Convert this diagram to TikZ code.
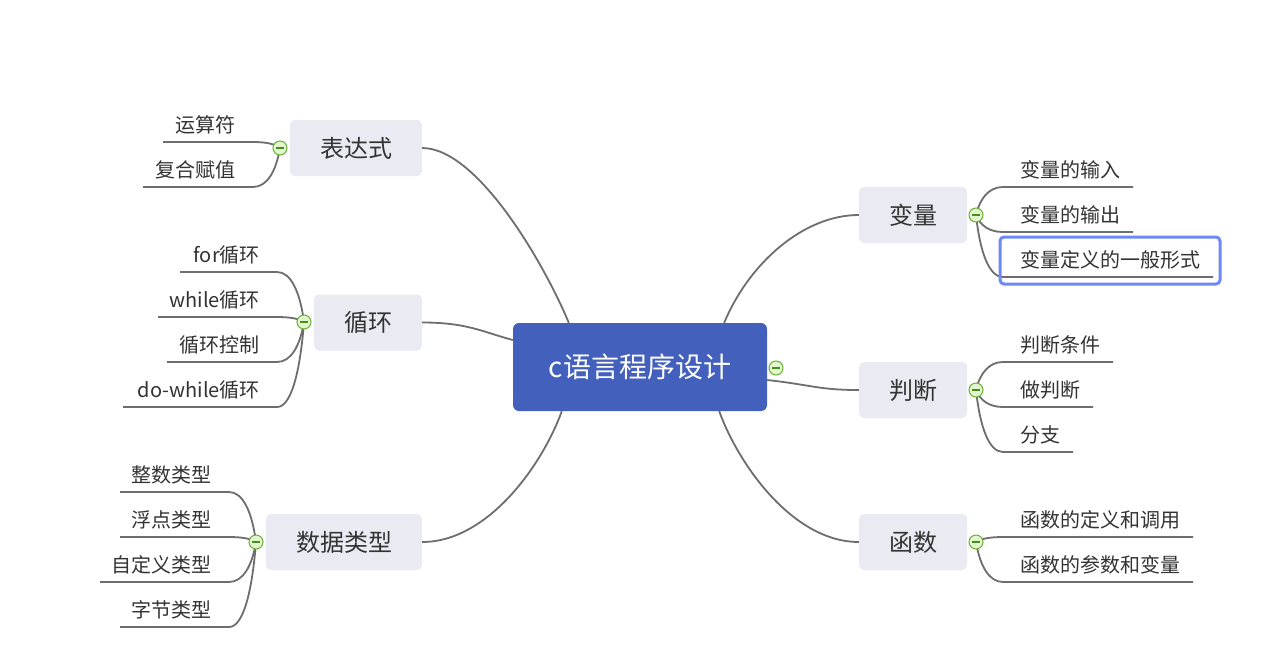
\documentclass[tikz,border=0pt]{standalone}
\usepackage{fontspec}
\newfontfamily\cjk{Noto Sans CJK SC}
\usetikzlibrary{calc}
\definecolor{rootblue}{RGB}{67,96,188}
\definecolor{topicbg}{RGB}{234,234,243}
\definecolor{txt}{RGB}{51,51,51}
\definecolor{connc}{RGB}{110,110,110}
\definecolor{foldg}{RGB}{105,175,55}
\definecolor{foldbg}{RGB}{226,245,204}
\definecolor{foldm}{RGB}{70,140,35}
\definecolor{hlblue}{RGB}{110,136,245}
\tikzset{
  rootbox/.style={fill=rootblue, rounded corners=6pt, minimum width=254pt, minimum height=88pt,
    text=white, font=\cjk\fontsize{28}{32}\selectfont, inner sep=0pt},
  topicbox/.style={fill=topicbg, rounded corners=5pt, minimum height=56pt,
    font=\cjk\fontsize{24}{28}\selectfont, text=txt, inner sep=0pt},
  leaftext/.style={font=\cjk\fontsize{20}{24}\selectfont, text=txt, inner sep=0pt},
  conn/.style={draw=connc, line width=1.8pt},
  fold/.style={circle, draw=foldg, fill=foldbg, line width=1pt, minimum size=14pt, inner sep=0pt,
    path picture={\draw[foldm, line width=1.4pt]
      ([xshift=-4pt]path picture bounding box.center) -- ([xshift=4pt]path picture bounding box.center);}},
  hl/.style={draw=hlblue, line width=3pt, rounded corners=4pt}
}
% left leaf: #1 name, #2 fold coord, #3 icon x, #4 icon y, #5 underline y, #6 outer x, #7 text
\newcommand\leafL[7]{%
  \pgfmathsetmacro\lfin{#3-27}%
  \pgfmathsetmacro\lftx{#3-44}%
  \pgfmathsetmacro\lfdy{0.6*(#5-#4)}%
  \node[leaftext, anchor=east] (#1) at (\lftx,#5-17) {#7};
  \coordinate (#1a) at (\lfin,#5);
  \coordinate (#1b) at (#6,#5);
  \draw[conn] (#2) .. controls +(-4,\lfdy) and +(14,0) .. (#1a) -- (#1b);
}
\newcommand\leafR[7]{%
  \pgfmathsetmacro\lfin{#3+27}%
  \pgfmathsetmacro\lftx{#3+44}%
  \pgfmathsetmacro\lfdy{0.6*(#5-#4)}%
  \node[leaftext, anchor=west] (#1) at (\lftx,#5-17) {#7};
  \coordinate (#1a) at (\lfin,#5);
  \coordinate (#1b) at (#6,#5);
  \draw[conn] (#2) .. controls +(4,\lfdy) and +(-14,0) .. (#1a) -- (#1b);
}
\begin{document}
\begin{tikzpicture}[x=1pt,y=-1pt]
\useasboundingbox[fill=white] (0,0) rectangle (1286,657);

% fold icon positions
\coordinate (c0) at (776,368);
\coordinate (c1) at (280,148);
\coordinate (c2) at (304,322);
\coordinate (c3) at (256,542);
\coordinate (c4) at (976,215);
\coordinate (c5) at (976,390);
\coordinate (c6) at (976,542);

% root and topics
\node[rootbox] (root) at (640,367) {c语言程序设计};
\node[topicbox, minimum width=132pt] (bds) at (356,148) {表达式};
\node[topicbox, minimum width=108pt] (xh) at (368,322.5) {循环};
\node[topicbox, minimum width=156pt] (sjlx) at (344,542) {数据类型};
\node[topicbox, minimum width=108pt] (bl) at (913,215) {变量};
\node[topicbox, minimum width=108pt] (pd) at (913,390) {判断};
\node[topicbox, minimum width=108pt] (hs) at (913,542) {函数};

% main connectors
\draw[conn] (bds.east) .. controls +(55,0) and +(-25,-60) .. ($(root.north west)+(56,0)$);
\draw[conn] (xh.east) .. controls +(45,0) and +(-30,-8) .. ($(root.west)+(0,-27)$);
\draw[conn] (sjlx.east) .. controls +(65,0) and +(-20,55) .. ($(root.south west)+(49,0)$);
\draw[conn] ($(root.north east)+(-43,0)$) .. controls +(25,-60) and +(-55,0) .. (bl.west);
\draw[conn] ($(root.east)+(0,13)$) .. controls +(45,5) and +(-40,0) .. (pd.west);
\draw[conn] ($(root.south east)+(-48,0)$) .. controls +(20,55) and +(-65,0) .. (hs.west);

% leaves
\leafL{la1}{c1}{280}{148}{142}{163}{运算符}
\leafL{la2}{c1}{280}{148}{187}{143}{复合赋值}

\leafL{lb1}{c2}{304}{322}{272}{180}{for循环}
\leafL{lb2}{c2}{304}{322}{317}{158}{while循环}
\leafL{lb3}{c2}{304}{322}{362}{167}{循环控制}
\leafL{lb4}{c2}{304}{322}{407}{123}{do-while循环}

\leafL{lc1}{c3}{256}{542}{492}{120}{整数类型}
\leafL{lc2}{c3}{256}{542}{537}{120}{浮点类型}
\leafL{lc3}{c3}{256}{542}{582}{100}{自定义类型}
\leafL{lc4}{c3}{256}{542}{627}{120}{字节类型}

\leafR{ld1}{c4}{976}{215}{187}{1133}{变量的输入}
\leafR{ld2}{c4}{976}{215}{232}{1133}{变量的输出}
\leafR{ld3}{c4}{976}{215}{277}{1213}{变量定义的一般形式}

\leafR{le1}{c5}{976}{390}{362}{1113}{判断条件}
\leafR{le2}{c5}{976}{390}{407}{1093}{做判断}
\leafR{le3}{c5}{976}{390}{452}{1073}{分支}

\leafR{lf1}{c6}{976}{542}{537}{1193}{函数的定义和调用}
\leafR{lf2}{c6}{976}{542}{582}{1193}{函数的参数和变量}

% selection highlight
\draw[hl] (1000,237) rectangle (1220,284);

% fold icons
\node[fold] (f0) at (c0) {};
\node[fold] (f1) at (c1) {};
\node[fold] (f2) at (c2) {};
\node[fold] (f3) at (c3) {};
\node[fold] (f4) at (c4) {};
\node[fold] (f5) at (c5) {};
\node[fold] (f6) at (c6) {};
\end{tikzpicture}
\end{document}
